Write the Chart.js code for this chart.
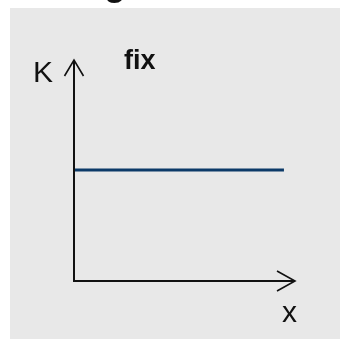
<!DOCTYPE html>
<html>
<head>
<meta charset="utf-8">
<script src="https://cdn.jsdelivr.net/npm/chart.js@4"></script>
<style>
  html, body { margin: 0; padding: 0; background: #fff; }
  #wrap { width: 340px; height: 339px; position: relative; }
</style>
</head>
<body>
<div id="wrap"><canvas id="chart" width="340" height="339"></canvas></div>
<script>
// output quantity (x) and fixed cost level (K)
const quantities = [0, 9.5];
const fixedCosts = [5, 5];
const seriesLabel = "fix";
const yAxisLabel = "K";
const xAxisLabel = "x";
const titleText = "g";

const FONT = '"Liberation Sans", Arial, sans-serif';

// gray panel, axes with open arrow heads and the text labels
const axesPlugin = {
  id: "axesPlugin",
  beforeDraw(chart) {
    const { ctx } = chart;
    ctx.save();
    ctx.fillStyle = "#fff";
    ctx.fillRect(0, 0, chart.width, chart.height);
    ctx.fillStyle = "#e8e8e8";
    ctx.fillRect(10, 8, chart.width - 10, chart.height - 8);
    ctx.restore();
  },
  afterDatasetsDraw(chart) {
    const { ctx, chartArea, scales } = chart;
    const x0 = scales.x.getPixelForValue(0);
    const y0 = scales.y.getPixelForValue(0);
    const top = chartArea.top + 1;
    const right = chartArea.right;

    ctx.save();
    ctx.strokeStyle = "#111";
    ctx.lineWidth = 2;
    ctx.beginPath();
    ctx.moveTo(x0, top);
    ctx.lineTo(x0, y0);
    ctx.lineTo(right, y0);
    ctx.stroke();

    ctx.lineWidth = 1.6;
    ctx.beginPath();
    ctx.moveTo(x0 - 9.5, top + 16);
    ctx.lineTo(x0, top);
    ctx.lineTo(x0 + 9.5, top + 16);
    ctx.moveTo(right - 18, y0 - 10);
    ctx.lineTo(right, y0);
    ctx.lineTo(right - 18, y0 + 10);
    ctx.stroke();

    ctx.fillStyle = "#111";
    ctx.textBaseline = "alphabetic";
    ctx.textAlign = "left";
    ctx.font = "30px " + FONT;
    ctx.fillText(yAxisLabel, 33, 82);
    ctx.fillText(xAxisLabel, 282, 322);
    ctx.font = "bold 27px " + FONT;
    ctx.fillText(seriesLabel, 124, 69);
    ctx.font = "bold 36px " + FONT;
    ctx.fillText(titleText, 104, -5);
    ctx.restore();
  },
};

new Chart(document.getElementById("chart"), {
  type: "line",
  data: {
    datasets: [
      {
        label: seriesLabel,
        data: quantities.map((q, i) => ({ x: q, y: fixedCosts[i] })),
        borderColor: "#0c3a68",
        borderWidth: 3,
        pointRadius: 0,
        borderCapStyle: "butt",
        fill: false,
      },
    ],
  },
  options: {
    responsive: false,
    animation: false,
    layout: { padding: { left: 74, right: 45, top: 59, bottom: 58 } },
    plugins: {
      legend: { display: false },
      title: { display: false },
      tooltip: { enabled: false },
    },
    scales: {
      x: { type: "linear", min: 0, max: 10, display: false },
      y: { type: "linear", min: 0, max: 10, display: false },
    },
  },
  plugins: [axesPlugin],
});
</script>
</body>
</html>
